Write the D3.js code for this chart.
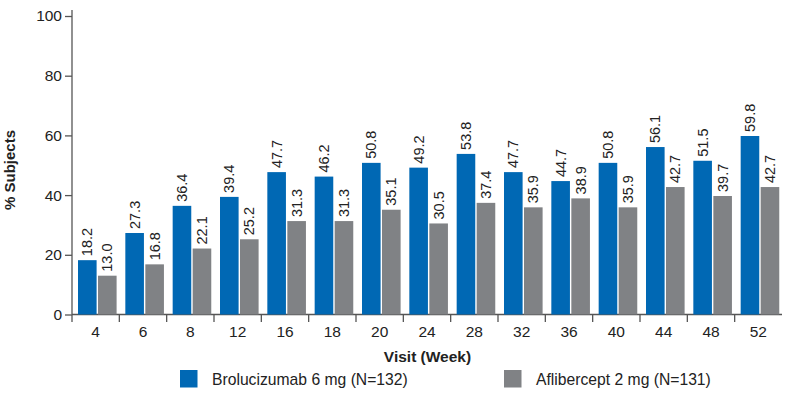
<!DOCTYPE html>
<html><head><meta charset="utf-8">
<script src="https://cdn.jsdelivr.net/npm/d3@7"></script>
<style>body{margin:0;background:#fff}text{font-family:"Liberation Sans",Arial,sans-serif}</style>
</head><body><svg id="c" width="790" height="394"></svg>
<script>
const categories = ["4","6","8","12","16","18","20","24","28","32","36","40","44","48","52"];
const brolucizumab = [18.2,27.3,36.4,39.4,47.7,46.2,50.8,49.2,53.8,47.7,44.7,50.8,56.1,51.5,59.8];
const aflibercept = [13.0,16.8,22.1,25.2,31.3,31.3,35.1,30.5,37.4,35.9,38.9,35.9,42.7,39.7,42.7];
const yTicks = [0,20,40,60,80,100];
const seriesNames = ["Brolucizumab 6 mg (N=132)","Aflibercept 2 mg (N=131)"];
const colors = ["#0068b4","#808285"];

const svg = d3.select("#c");
const x = d3.scaleBand().domain(categories).range([72,782]);
const y = d3.scaleLinear().domain([0,100]).range([314.5,16]);
const axisColor = "#555";

// y axis
const ya = svg.append("g").attr("transform","translate(72,0)")
  .call(d3.axisLeft(y).tickValues(yTicks).tickSize(7).tickPadding(3));
ya.select(".domain").attr("d","M0,10V314.5").attr("stroke",axisColor).attr("stroke-width",1.3);
ya.selectAll(".tick line").attr("stroke",axisColor).attr("stroke-width",1.3);
ya.selectAll(".tick text").attr("font-size",15.5).attr("fill","#222");

// x axis
const xa = svg.append("g").attr("transform","translate(0,314.5)")
  .call(d3.axisBottom(x).tickSize(0).tickPadding(11));
xa.select(".domain").attr("d","M72,0H782").attr("stroke",axisColor).attr("stroke-width",1.3);
xa.selectAll(".tick text").attr("font-size",15.5).attr("fill","#222");
// separator ticks between bands
svg.append("g").selectAll("line").data(categories).join("line")
  .attr("x1",d=>x(d)).attr("x2",d=>x(d)).attr("y1",314.5).attr("y2",322)
  .attr("stroke",axisColor).attr("stroke-width",1.3);

const g = svg.append("g");
const series = [brolucizumab, aflibercept];
const offs = [6, 26];
series.forEach((vals,si)=>{
  g.append("g").selectAll("rect").data(categories).join("rect")
    .attr("x",(d,i)=>x(d)+offs[si]).attr("width",18.6)
    .attr("y",(d,i)=>y(vals[i])).attr("height",(d,i)=>y(0)-y(vals[i]))
    .attr("fill",colors[si]);
  g.append("g").selectAll("text").data(categories).join("text")
    .attr("transform",(d,i)=>`translate(${x(d)+offs[si]+9.3+5},${y(vals[i])-4}) rotate(-90)`)
    .attr("font-size",14.5).attr("fill","#222")
    .text((d,i)=>vals[i].toFixed(1));
});

// titles
svg.append("text").attr("transform","translate(15,170) rotate(-90)")
  .attr("text-anchor","middle").attr("font-size",15).attr("font-weight","bold").attr("fill","#222")
  .text("% Subjects");
svg.append("text").attr("x",427.5).attr("y",362).attr("text-anchor","middle")
  .attr("font-size",15.5).attr("font-weight","bold").attr("fill","#222").text("Visit (Week)");

// legend
const lx = [180,504];
seriesNames.forEach((n,i)=>{
  svg.append("rect").attr("x",lx[i]).attr("y",370).attr("width",17.5).attr("height",17.5).attr("fill",colors[i]);
  svg.append("text").attr("x",lx[i]+32).attr("y",385).attr("font-size",15.7).attr("fill","#222").text(n);
});
</script></body></html>
